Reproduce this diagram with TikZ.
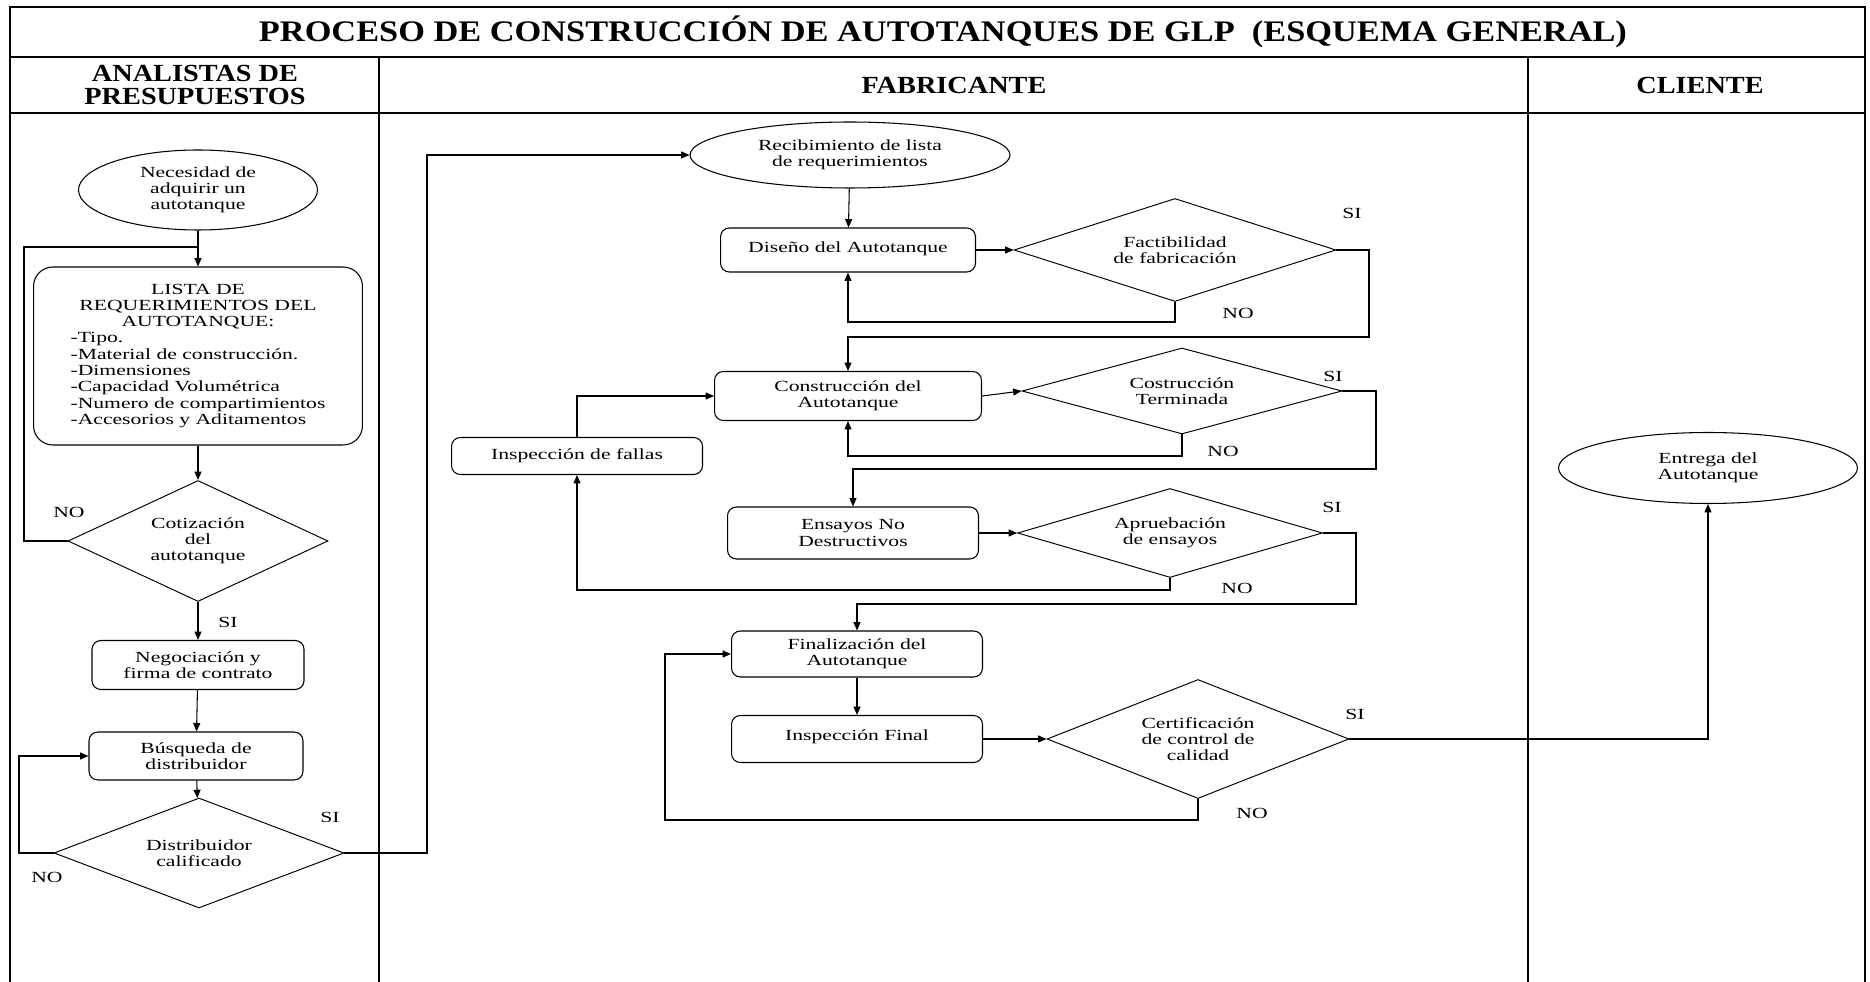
\documentclass[tikz,border=0pt]{standalone}
\usepackage{fontspec}
\setmainfont{Liberation Serif}[FakeStretch=1.4]
\newfontfamily\headfont{Liberation Serif}[FakeStretch=1.15]
\usetikzlibrary{shapes.geometric,arrows.meta,positioning}

\newcommand{\bodysize}{\fontsize{8.8}{9.25}\selectfont}
\newcommand{\titlesize}{\headfont\bfseries\fontsize{17}{20}\selectfont}
\newcommand{\lanesize}{\headfont\bfseries\fontsize{14}{13.2}\selectfont}

\tikzset{
  proc/.style={draw, rounded corners=5pt, line width=0.6pt, align=center, inner sep=0pt},
  inicio/.style={draw, ellipse, line width=0.6pt, align=center, inner sep=0pt},
  decision/.style={draw, diamond, aspect=2.6, line width=0.55pt, align=center, inner sep=0pt},
  flecha/.style={-{Triangle[length=4.8pt,width=4pt]}, line width=0.6pt},
  linea/.style={line width=0.6pt},
  marco/.style={line width=1.2pt},
  etiq/.style={inner sep=0pt}
}

\begin{document}
\begin{tikzpicture}[x=0.02cm, y=-0.02cm, font=\bodysize]
\useasboundingbox (0,0) rectangle (1870,982);

% marco y carriles
\draw[marco] (10,982) -- (10,7) -- (1865,7) -- (1865,982);
\draw[marco] (10,57) -- (1865,57);
\draw[marco] (10,113) -- (1865,113);
\draw[marco] (379,57) -- (379,982);
\draw[marco] (1528,57) -- (1528,982);

\node[font=\titlesize] (titulo) at (943,32) {PROCESO DE CONSTRUCCIÓN DE AUTOTANQUES DE GLP\ \ (ESQUEMA GENERAL)};
\node[font=\lanesize, align=center] (analistas) at (195,85) {ANALISTAS DE\\PRESUPUESTOS};
\node[font=\lanesize] (fabricante) at (954,85) {FABRICANTE};
\node[font=\lanesize] (cliente) at (1700,85) {CLIENTE};

% analistas de presupuestos
\node[inicio, minimum width=4.78cm, minimum height=1.6cm] (nec) at (198,190) {Necesidad de\\adquirir un\\autotanque};
\node[proc, rounded corners=11pt, minimum width=6.58cm, minimum height=3.56cm] (lista) at (198,356) {%
\begin{tabular}{@{}l@{}}
\multicolumn{1}{@{}c@{}}{LISTA DE}\\
\multicolumn{1}{@{}c@{}}{REQUERIMIENTOS DEL}\\
\multicolumn{1}{@{}c@{}}{AUTOTANQUE:}\\
-Tipo.\\
-Material de construcción.\\
-Dimensiones\\
-Capacidad Volumétrica\\
-Numero de compartimientos\\
-Accesorios y Aditamentos
\end{tabular}};
\node[decision, minimum width=5.2cm, minimum height=2.42cm] (cot) at (198,541) {Cotización\\del\\autotanque};
\node[proc, minimum width=4.24cm, minimum height=0.98cm] (neg) at (198,665) {Negociación y\\firma de contrato};
\node[proc, minimum width=4.28cm, minimum height=0.96cm] (bus) at (196,756) {Búsqueda de\\distribuidor};
\node[decision, minimum width=5.8cm, minimum height=2.2cm] (dist) at (199,853) {Distribuidor\\calificado};

% fabricante
\node[inicio, minimum width=6.4cm, minimum height=1.32cm] (rec) at (850,155) {Recibimiento de lista\\de requerimientos};
\node[proc, minimum width=5.1cm, minimum height=0.88cm] (dis) at (848,250) {\raisebox{3pt}{Diseño del Autotanque}};
\node[decision, minimum width=6.44cm, minimum height=2.06cm] (fact) at (1175,250) {Factibilidad\\de fabricación};
\node[proc, minimum width=5.34cm, minimum height=0.98cm] (cons) at (848,396) {Construcción del\\Autotanque};
\node[decision, minimum width=6.4cm, minimum height=1.72cm] (term) at (1182,391) {Costrucción\\Terminada};
\node[proc, minimum width=5.02cm, minimum height=0.74cm] (fal) at (577,456) {Inspección de fallas};
\node[proc, minimum width=5.02cm, minimum height=1.04cm] (ens) at (853,533) {Ensayos No\\Destructivos};
\node[decision, minimum width=6.1cm, minimum height=1.78cm] (apr) at (1170,533) {Apruebación\\de ensayos};
\node[proc, minimum width=5.02cm, minimum height=0.92cm] (fin) at (857,654) {Finalización del\\Autotanque};
\node[proc, minimum width=5.02cm, minimum height=0.94cm] (insf) at (857,739) {\raisebox{4pt}{Inspección Final}};
\node[decision, minimum width=6.04cm, minimum height=2.38cm] (cert) at (1198,739) {Certificación\\de control de\\calidad};

% cliente
\node[inicio, minimum width=5.98cm, minimum height=1.42cm] (ent) at (1708,468) {Entrega del\\Autotanque};

% etiquetas
\node[etiq] (noCot) at (69,512) {NO};
\node[etiq] (siCot) at (228,622) {SI};
\node[etiq] (noDist) at (47,877) {NO};
\node[etiq] (siDist) at (330,817) {SI};
\node[etiq] (siFact) at (1352,213) {SI};
\node[etiq] (noFact) at (1238,313) {NO};
\node[etiq] (siTerm) at (1333,376) {SI};
\node[etiq] (noTerm) at (1223,451) {NO};
\node[etiq] (siApr) at (1332,507) {SI};
\node[etiq] (noApr) at (1237,588) {NO};
\node[etiq] (siCert) at (1355,714) {SI};
\node[etiq] (noCert) at (1252,813) {NO};

\coordinate (cotL) at (24,247);
\coordinate (distL) at (19,756);
\coordinate (distR) at (427,155);
\coordinate (factN) at (1175,322);
\coordinate (factS) at (1369,337);
\coordinate (termN) at (1182,456);
\coordinate (termS) at (1376,469);
\coordinate (aprN) at (1170,590);
\coordinate (aprS) at (1356,604);
\coordinate (certN) at (665,820);

% conectores
\draw[flecha] (nec) -- (lista);
\draw[flecha] (lista) -- (cot);
\draw[flecha] (cot) -- (neg);
\draw[flecha] (neg) -- (bus);
\draw[flecha] (bus) -- (dist);
\draw[linea] (cot.west) -| (cotL) -- (cotL -| nec.south);
\draw[flecha] (dist.west) -| (distL) -- (bus.west);
\draw[flecha] (dist.east) -| (distR) -- (rec.west);

\draw[flecha] (rec) -- (dis);
\draw[flecha] (dis) -- (fact);
\draw[flecha] (fact.south) -- (factN) -| (dis.south);
\draw[flecha] (fact.east) -| (factS) -| (cons.north);
\draw[flecha] (cons.east) -- (term.west);
\draw[flecha] (term.south) -- (termN) -| (cons.south);
\draw[flecha] (term.east) -| (termS) -| (ens.north);
\draw[flecha] (ens) -- (apr);
\draw[flecha] (apr.south) -- (aprN) -| (fal.south);
\draw[flecha] (fal.north) |- (cons.west);
\draw[flecha] (apr.east) -| (aprS) -| (fin.north);
\draw[flecha] (fin) -- (insf);
\draw[flecha] (insf) -- (cert);
\draw[flecha] (cert.south) |- (certN) |- (fin.west);
\draw[flecha] (cert.east) -| (ent.south);
\end{tikzpicture}
\end{document}
